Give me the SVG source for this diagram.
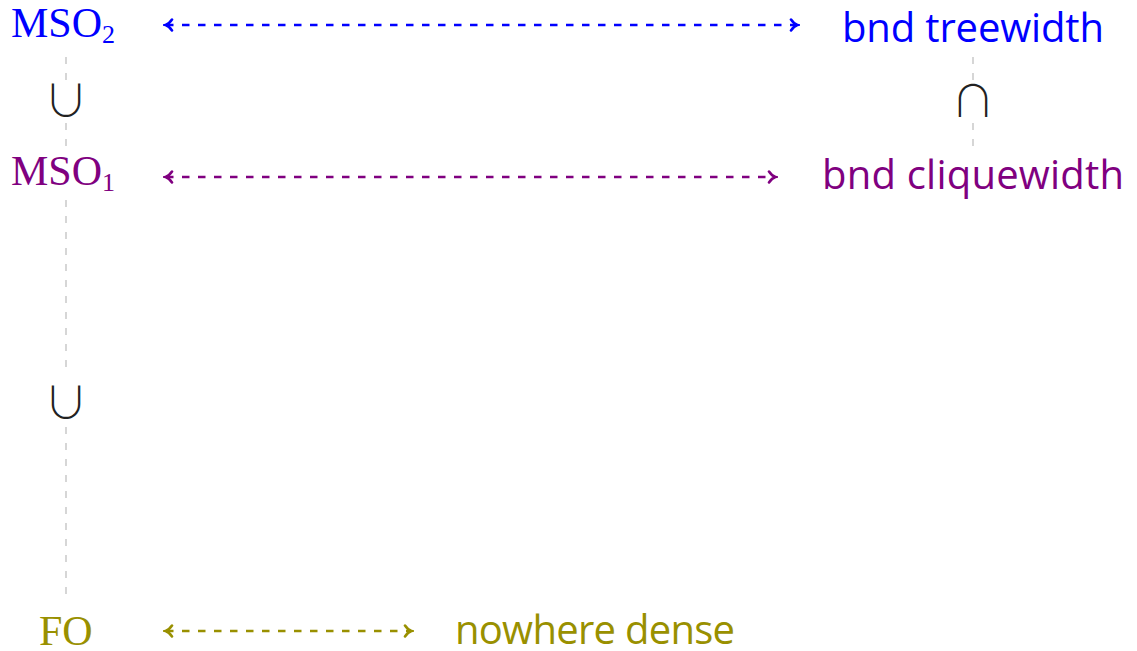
<svg xmlns="http://www.w3.org/2000/svg" width="1137" height="651" viewBox="0 0 1137 651">
  <defs>
    <marker id="tip" viewBox="0 0 12 14" refX="9" refY="7" markerWidth="12" markerHeight="14" markerUnits="userSpaceOnUse" orient="auto-start-reverse">
      <path d="M3,1.5 Q6,6 9.5,7 Q6,8 3,12.5" fill="none" stroke="context-stroke" stroke-width="2.6" stroke-linecap="round"/>
    </marker>
    <style>
      .logic { font-family: "Liberation Serif", serif; font-size: 42px; }
      .cls { font-family: "Open Sans", "Liberation Sans", sans-serif; font-size: 40px; }
      .sym { font-family: "Noto Sans CJK JP", "DejaVu Sans", sans-serif; font-weight: 300; font-size: 44px; fill: #222; text-anchor: middle; }
      .eq { fill: none; stroke-width: 2.6; stroke-dasharray: 7.5 8.5; marker-start: url(#tip); marker-end: url(#tip); }
      .incl { fill: none; stroke: #cccccc; stroke-width: 1.6; stroke-dasharray: 7 9; }
      .blue { fill: #0000ff; stroke: #0000ff; }
      .purple { fill: #800080; stroke: #800080; }
      .olive { fill: #999000; stroke: #999000; }
    </style>
  </defs>

  <!-- inclusions and correspondences -->
  <g id="connectors">
    <line class="incl" x1="66" y1="57" x2="66" y2="82"/>
    <line class="incl" x1="66" y1="123" x2="66" y2="148"/>
    <line class="incl" x1="66" y1="200" x2="66" y2="376"/>
    <line class="incl" x1="66" y1="427" x2="66" y2="594"/>
    <line class="incl" x1="973" y1="57" x2="973" y2="80"/>
    <line class="incl" x1="973" y1="123" x2="973" y2="148"/>
    <text class="sym" x="66" y="117">∪</text>
    <text class="sym" x="66" y="419">∪</text>
    <text class="sym" x="973" y="117">∩</text>
    <line class="eq blue" x1="166" y1="25" x2="797" y2="25"/>
    <line class="eq purple" x1="166" y1="177" x2="775" y2="177"/>
    <line class="eq olive" x1="166" y1="631" x2="411" y2="631"/>
  </g>

  <g id="mso2"><text class="logic" x="11" y="37" fill="#0000ff">MSO<tspan font-size="26" dy="6">2</tspan></text></g>
  <g id="mso1"><text class="logic" x="11" y="185" fill="#800080">MSO<tspan font-size="26" dy="6">1</tspan></text></g>
  <g id="fo"><text class="logic" x="39" y="645" fill="#999000">FO</text></g>
  <g id="treewidth"><text class="cls" x="842" y="42" fill="#0000ff" textLength="262">bnd treewidth</text></g>
  <g id="cliquewidth"><text class="cls" x="822" y="189" fill="#800080" textLength="302">bnd cliquewidth</text></g>
  <g id="nowhere-dense"><text class="cls" x="455" y="644" fill="#999000" textLength="280">nowhere dense</text></g>
</svg>
